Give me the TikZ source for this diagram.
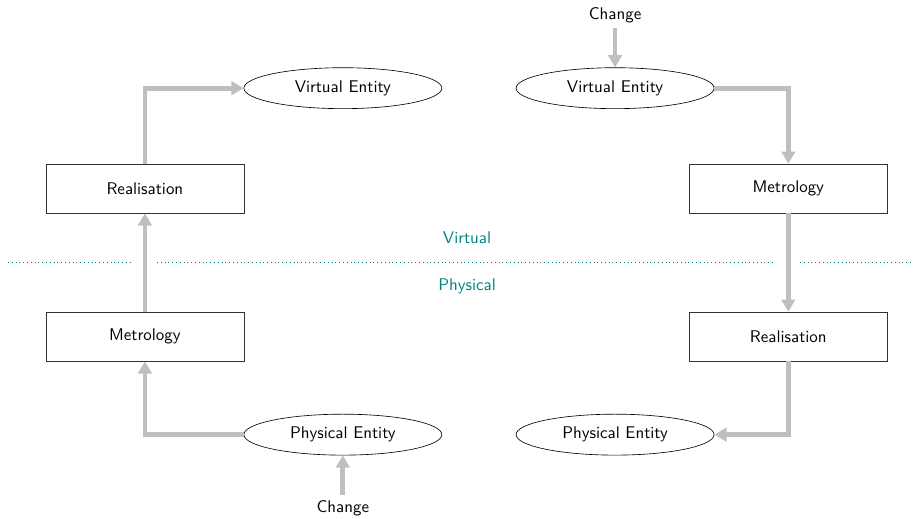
\documentclass[tikz,border=0pt]{standalone}
\usetikzlibrary{arrows.meta,shapes.geometric}
\newcommand{\lbl}{\sffamily\fontsize{10.7pt}{13pt}\selectfont}
\tikzset{
    stepbox/.style={rectangle, draw=black!80, thin, minimum width=4.4cm, minimum height=1.09cm, font=\lbl},
    entity/.style={ellipse, draw, thin, minimum width=4.4cm, minimum height=0.91cm, font=\lbl},
    flow/.style={draw=black!25, line width=3pt, -{Triangle[length=0.27cm,width=0.3cm]}},
    side/.style={text=teal, font=\lbl},
}
\begin{document}
\begin{tikzpicture}
\useasboundingbox (0,0) rectangle (20.38,-11.53);
\begin{scope}
    % realisation loop (left)
    \node[stepbox] (realL) at (3.22,-4.19) {Realisation};
    \node[stepbox] (metrL) at (3.22,-7.48) {Metrology};
    \node[entity] (veL) at (7.62,-1.96) {Virtual Entity};
    \node[entity] (peL) at (7.62,-9.66) {Physical Entity};
    \node[font=\lbl] (chL) at (7.62,-11.29) {Change};

    % metrology loop (right)
    \node[stepbox] (metrR) at (17.52,-4.19) {Metrology};
    \node[stepbox] (realR) at (17.52,-7.48) {Realisation};
    \node[entity] (veR) at (13.67,-1.96) {Virtual Entity};
    \node[entity] (peR) at (13.67,-9.66) {Physical Entity};
    \node[font=\lbl] (chR) at (13.67,-0.33) {Change};

    \node[side] (virt) at (10.38,-5.29) {Virtual};
    \node[side] (phys) at (10.38,-6.36) {Physical};
\end{scope}
\begin{scope}
    % border between both worlds
    \coordinate (b1) at (0.18,-5.82);
    \coordinate (b2) at (2.96,-5.82);
    \coordinate (b3) at (3.49,-5.82);
    \coordinate (b4) at (17.18,-5.82);
    \coordinate (b5) at (17.78,-5.82);
    \coordinate (b6) at (20.29,-5.82);
    \foreach \from/\to in {b1/b2, b3/b4, b5/b6}
        \draw[teal, dotted] (\from) -- (\to);
\end{scope}
\begin{scope}
    \draw[flow] (realL.north) |- (veL.west);
    \draw[flow] (peL.west) -| (metrL.south);
    \draw[flow] (metrL.north) -- (realL.south);
    \draw[flow] (chL.north) -- (peL.south);

    \draw[flow] (chR.south) -- (veR.north);
    \draw[flow] (veR.east) -| (metrR.north);
    \draw[flow] (metrR.south) -- (realR.north);
    \draw[flow] (realR.south) |- (peR.east);
\end{scope}
\end{tikzpicture}
\end{document}
